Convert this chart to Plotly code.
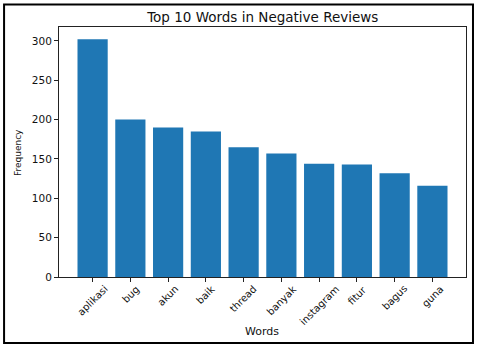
import plotly.graph_objects as go

words = ["aplikasi", "bug", "akun", "baik", "thread", "banyak", "instagram", "fitur", "bagus", "guna"]
frequency = [302, 200, 190, 185, 165, 157, 144, 143, 132, 116]
y_ticks = [0, 50, 100, 150, 200, 250, 300]

W, H = 480, 349
L, R, T, B = 59, 466.5, 27, 277
pw, ph = R - L, B - T

def px(x):
    return (x - L) / pw

def py(y):
    return (B - y) / ph

font = "DejaVu Sans"
positions = list(range(len(words)))
fig = go.Figure(go.Bar(
    x=positions, y=frequency, width=0.8,
    marker=dict(color="#1f77b4", line=dict(width=0)),
))

annotations = [
    dict(text="Frequency", x=px(18), y=py(153), xref="paper", yref="paper", textangle=-90,
         showarrow=False, xanchor="center", yanchor="middle", font=dict(size=9, color="#111")),
    dict(text="Words", x=px(262), y=py(331.5), xref="paper", yref="paper",
         showarrow=False, xanchor="center", yanchor="middle", font=dict(size=11, color="#111")),
]
for i, w in zip(positions, words):
    annotations.append(dict(text=w, x=i, xref="x", y=py(282), yref="paper", textangle=-45,
                            showarrow=False, xanchor="center", yanchor="top",
                            borderpad=0, font=dict(size=10, color="#111")))

fig.update_layout(
    width=W, height=H,
    margin=dict(l=L, r=W - R, t=T, b=H - B),
    paper_bgcolor="white", plot_bgcolor="white",
    showlegend=False,
    font=dict(family=font, color="#222"),
    title=dict(text="Top 10 Words in Negative Reviews", x=(L + R) / 2 / W, xanchor="center",
               y=1 - 17 / H, yanchor="middle", font=dict(size=13.5, color="#111")),
    annotations=annotations,
    shapes=[dict(type="rect", xref="paper", yref="paper", x0=px(4), x1=px(473.5), y0=py(343), y1=py(4.5),
                 line=dict(color="black", width=2))],
)
fig.update_xaxes(
    range=[-0.89, 9.89], tickmode="array", tickvals=positions, showticklabels=False,
    ticks="outside", ticklen=4, tickcolor="#222", showline=True, linecolor="#222",
    linewidth=1, mirror=True, showgrid=False, zeroline=False, automargin=False,
)
fig.update_yaxes(
    range=[0, 317.7], tickmode="array", tickvals=y_ticks, ticks="outside", ticklen=4, tickcolor="#222",
    showline=True, linecolor="#222", linewidth=1, mirror=True, showgrid=False, zeroline=False,
    tickfont=dict(size=10.5, color="#111"), automargin=False,
)
fig.write_html("out.html", config={"displayModeBar": False},
               post_script="document.body.style.margin='0';")
